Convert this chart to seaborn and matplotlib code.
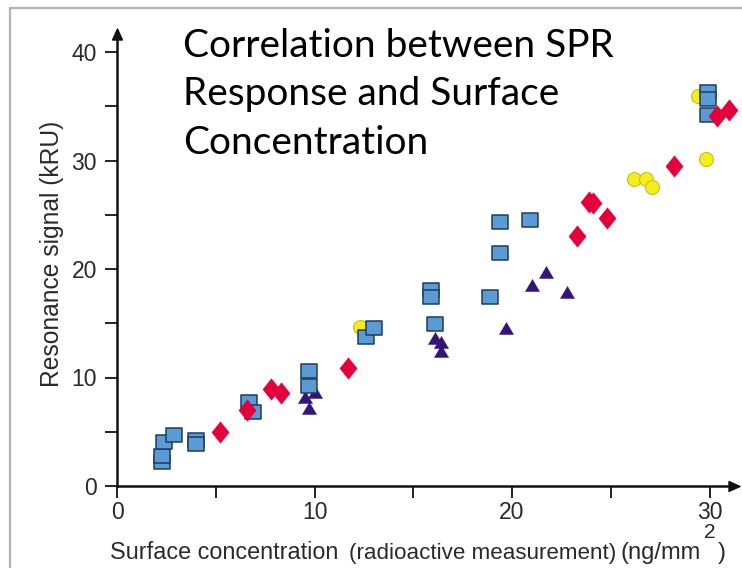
import numpy as np
import pandas as pd
import matplotlib
matplotlib.use("Agg")
import matplotlib.pyplot as plt
import seaborn as sns
from matplotlib.lines import Line2D
from matplotlib.path import Path

# ---- data ----
sq_x = [2.3, 2.3, 2.4, 2.9, 4.0, 4.0, 6.7, 6.9, 9.7, 9.7, 12.6, 13.0, 15.9, 15.9, 16.1,
        18.9, 19.4, 19.4, 20.9, 29.9, 29.9, 29.9]
sq_y = [2.2, 2.8, 4.1, 4.7, 4.2, 3.9, 7.7, 6.8, 10.6, 9.2, 13.7, 14.6, 18.1, 17.4, 14.9,
        17.4, 21.5, 24.3, 24.5, 36.3, 35.7, 34.2]

di_x = [5.2, 6.6, 7.8, 8.3, 11.7, 23.3, 23.9, 24.1, 24.8, 28.2, 30.4, 31.0]
di_y = [5.0, 7.0, 8.9, 8.6, 10.9, 23.0, 26.2, 26.1, 24.7, 29.5, 34.1, 34.7]

ci_x = [9.7, 12.3, 26.2, 26.8, 27.1, 29.4, 29.8]
ci_y = [9.9, 14.7, 28.3, 28.3, 27.6, 35.9, 30.1]

tr_x = [9.5, 10.0, 9.7, 16.1, 16.4, 16.4, 19.7, 21.0, 21.7, 22.8]
tr_y = [8.2, 8.7, 7.2, 13.6, 13.3, 12.4, 14.6, 18.5, 19.7, 17.9]

x_ticks = [0, 10, 20, 30]
x_minor = [5, 15, 25]
y_ticks = [0, 10, 20, 30, 40]
y_minor = [5, 15, 25, 35]

title_lines = ["Correlation between SPR", "Response and Surface", "Concentration"]
ylabel = "Resonance signal (kRU)"

# ---- figure ----
sns.set_theme(style="white")
plt.rcParams["font.family"] = ["Liberation Sans", "DejaVu Sans"]

W, H = 742, 568
fig = plt.figure(figsize=(W / 100, H / 100), dpi=100)
fig.patch.set_facecolor("white")

X0, XS = 117.0, 19.75   # pixel of x=0, px per unit
Y0, YS = 486.0, 10.85   # pixel (from top) of y=0, px per unit
xmin, xmax = -0.6, 31.6
ymin, ymax = -1.3, 42.5
left = X0 + xmin * XS
right = X0 + xmax * XS
top = Y0 - ymax * YS
bottom = Y0 - ymin * YS
ax = fig.add_axes([left / W, 1 - bottom / H, (right - left) / W, (bottom - top) / H])
ax.set_facecolor("none")
ax.set_xlim(xmin, xmax)
ax.set_ylim(ymin, ymax)

# markers
rect_m = Path([(-1, -0.85), (1, -0.85), (1, 0.85), (-1, 0.85), (-1, -0.85)], closed=True)
diam_m = Path([(0, 1), (0.8, 0), (0, -1), (-0.8, 0), (0, 1)], closed=True)
tri_m = Path([(0, 0.85), (1, -0.85), (-1, -0.85), (0, 0.85)], closed=True)

df_ci = pd.DataFrame({"x": ci_x, "y": ci_y})
df_tr = pd.DataFrame({"x": tr_x, "y": tr_y})
df_sq = pd.DataFrame({"x": sq_x, "y": sq_y})
df_di = pd.DataFrame({"x": di_x, "y": di_y})

sns.scatterplot(data=df_ci, x="x", y="y", ax=ax, marker="o", s=100,
                color="#f6ee1c", edgecolor="#c8bf14", linewidth=0.8, zorder=3)
sns.scatterplot(data=df_tr, x="x", y="y", ax=ax, marker=tri_m, s=105,
                color="#33157a", edgecolor="#33157a", linewidth=0.3, zorder=4)
sns.scatterplot(data=df_sq, x="x", y="y", ax=ax, marker=rect_m, s=125,
                color="#5b9bd5", edgecolor="#1e3c5a", linewidth=1.1, zorder=5)
sns.scatterplot(data=df_di, x="x", y="y", ax=ax, marker=diam_m, s=240,
                color="#e4003a", edgecolor="#e4003a", linewidth=0.3, zorder=6)
ax.set_xlabel("")
ax.set_ylabel("")

# axes with arrows
for s in ["top", "right"]:
    ax.spines[s].set_visible(False)
ax.spines["left"].set_position(("data", 0))
ax.spines["bottom"].set_position(("data", 0))
y_tip = (Y0 - 28) / YS
x_tip = (739 - X0) / XS
head = 11.0
ax.spines["left"].set_bounds(0, y_tip - head / YS * 0.8)
ax.spines["bottom"].set_bounds(0, x_tip - head / XS * 0.8)
for s in ["left", "bottom"]:
    ax.spines[s].set_linewidth(1.8)
    ax.spines[s].set_color("#111111")
up_m = Path([(0, 1), (0.9, -1), (-0.9, -1), (0, 1)], closed=True)
rt_m = Path([(1, 0), (-1, 0.9), (-1, -0.9), (1, 0)], closed=True)
ax.plot([0], [y_tip - head / 2 / YS], marker=up_m, ms=head * 0.72, color="#111111",
        clip_on=False, zorder=7)
ax.plot([x_tip - head / 2 / XS], [0], marker=rt_m, ms=head * 0.72, color="#111111",
        clip_on=False, zorder=7)

ax.set_xticks(x_ticks)
ax.set_xticks(x_minor, minor=True)
ax.set_yticks(y_ticks)
ax.set_yticks(y_minor, minor=True)
ax.set_xticklabels([str(t) for t in x_ticks])
ax.set_yticklabels([str(t) for t in y_ticks])
ax.tick_params(which="both", direction="out", length=8.5, width=1.4, color="#222222",
               bottom=True, left=True, top=False, right=False)
ax.tick_params(which="major", labelsize=16.5, labelcolor="#2a2a2a")
ax.tick_params(axis="x", which="major", pad=2)
ax.tick_params(axis="y", which="major", pad=6)
ax.grid(False)

renderer = fig.canvas.get_renderer()


def fit_width(t, target, vertical=False):
    bb = t.get_window_extent(renderer)
    size = bb.height if vertical else bb.width
    t.set_fontsize(t.get_fontsize() * target / size)


# title lines
tfam = ["Lato", "DejaVu Sans"]
baselines = [57, 105.5, 153.5]
t0 = fig.text(183 / W, 1 - baselines[0] / H, title_lines[0], fontsize=26, family=tfam,
              color="black", ha="left", va="baseline")
fit_width(t0, 430)
fs_title = t0.get_fontsize()
for line, b in zip(title_lines[1:], baselines[1:]):
    fig.text(183 / W, 1 - b / H, line, fontsize=fs_title, family=tfam, color="black",
             ha="left", va="baseline")

# y label
yl = fig.text(52 / W, 1 - 254 / H, ylabel, rotation=90, fontsize=17, color="#2a2a2a",
              ha="center", va="center")
fit_width(yl, 268, vertical=True)

# x label pieces
base = 1 - 559 / H
p1 = fig.text(110 / W, base, "Surface concentration", fontsize=16.5, color="#2a2a2a",
              ha="left", va="baseline")
fit_width(p1, 228)
p2 = fig.text(349 / W, base, "(radioactive measurement)", fontsize=14, color="#2a2a2a",
              ha="left", va="baseline")
fit_width(p2, 268)
p3 = fig.text(621 / W, base, "(ng/mm", fontsize=16.5, color="#2a2a2a",
              ha="left", va="baseline")
fit_width(p3, 80)
p4 = fig.text(704 / W, 1 - 538 / H, "2", fontsize=15, color="#2a2a2a",
              ha="left", va="baseline")
p5 = fig.text(718 / W, base, ")", fontsize=p3.get_fontsize(), color="#2a2a2a",
              ha="left", va="baseline")

# slide frame (left and top edges only are visible in the reference)
fx, fy = 9.5 / W, 1 - 7.5 / H
fig.lines.append(Line2D([fx, fx], [0, fy], transform=fig.transFigure,
                        color="#b4b4b4", linewidth=1.6))
fig.lines.append(Line2D([fx, 1], [fy, fy], transform=fig.transFigure,
                        color="#b4b4b4", linewidth=1.6))

fig.savefig("out.png", dpi=100, facecolor="white")
